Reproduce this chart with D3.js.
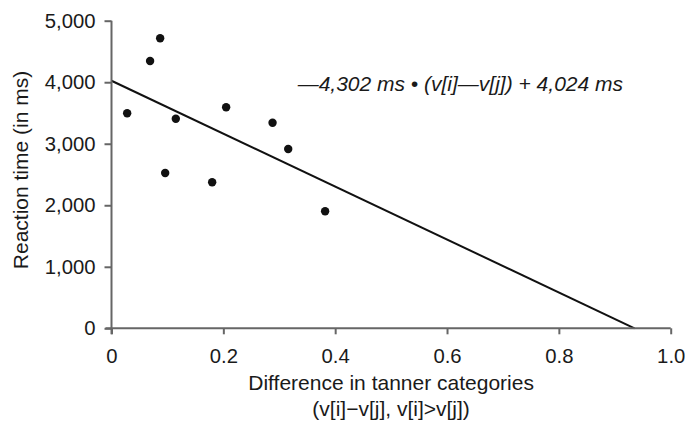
<!DOCTYPE html>
<html>
<head>
<meta charset="utf-8">
<script src="https://cdn.jsdelivr.net/npm/d3@7"></script>
<style>
  html, body { margin: 0; padding: 0; background: #fff; }
  svg { display: block; }
  text { font-family: "Liberation Sans", Arial, Helvetica, sans-serif; fill: #1a1a1a; }
</style>
</head>
<body>
<svg id="chart" width="685" height="423"></svg>
<script>
// ---- data ----
const tannerDiff = [0.028, 0.069, 0.087, 0.115, 0.096, 0.205, 0.180, 0.288, 0.316, 0.382];
const reactionMs = [3495, 4345, 4714, 3407, 2524, 3592, 2373, 3342, 2914, 1902];
const xTickValues = [0, 0.2, 0.4, 0.6, 0.8, 1.0];
const xTickLabels = ["0", "0.2", "0.4", "0.6", "0.8", "1.0"];
const yTickValues = [0, 1000, 2000, 3000, 4000, 5000];
const slope = -4302;
const intercept = 4024;
const equationText = "\u20144,302 ms \u2022 (v[i]\u2014v[j]) + 4,024 ms";
const xTitle1 = "Difference in tanner categories";
const xTitle2 = "(v[i]\u2212v[j], v[i]>v[j])";
const yTitle = "Reaction time (in ms)";

// ---- layout ----
const svg = d3.select("#chart");
const x = d3.scaleLinear().domain([0, 1]).range([111.5, 670.7]);
const y = d3.scaleLinear().domain([0, 5000]).range([328.3, 20.7]);
const axisColor = "#666";

// regression line (from x=0 to the x-intercept)
const xZero = -intercept / slope;
const lineData = [[0, intercept], [xZero, 0]];
svg.append("path")
  .datum(lineData)
  .attr("d", d3.line().x(d => x(d[0])).y(d => y(d[1])))
  .attr("fill", "none")
  .attr("stroke", "#111")
  .attr("stroke-width", 2);

// axes
const xAxis = d3.axisBottom(x)
  .tickValues(xTickValues)
  .tickFormat((d, i) => xTickLabels[i])
  .tickSize(6)
  .tickSizeOuter(0)
  .tickPadding(14);
const gx = svg.append("g").attr("transform", `translate(0,${y(0)})`).call(xAxis);

const yAxis = d3.axisLeft(y)
  .tickValues(yTickValues)
  .tickFormat(d3.format(","))
  .tickSize(7)
  .tickSizeOuter(0)
  .tickPadding(9);
const gy = svg.append("g").attr("transform", `translate(${x(0)},0)`).call(yAxis);

[gx, gy].forEach(g => {
  g.select(".domain").attr("stroke", axisColor).attr("stroke-width", 2);
  g.selectAll(".tick line").attr("stroke", axisColor).attr("stroke-width", 2);
  g.selectAll(".tick text")
    .style("font-family", '"Liberation Sans", Arial, sans-serif')
    .style("font-size", "20.3px")
    .attr("fill", "#1a1a1a");
});
// extend the domains slightly so they cross at the origin
gx.select(".domain").attr("d", `M${x(0) - 6},0H${x(1)}`);
gy.select(".domain").attr("d", `M0,${y(0) + 6}V${y(5000)}`);

// points
svg.append("g").selectAll("circle")
  .data(tannerDiff.map((d, i) => [d, reactionMs[i]]))
  .join("circle")
  .attr("cx", d => x(d[0]))
  .attr("cy", d => y(d[1]))
  .attr("r", 4.2)
  .attr("fill", "#111");

// equation
svg.append("text")
  .attr("x", 623)
  .attr("y", 91)
  .attr("text-anchor", "end")
  .style("font-style", "italic")
  .style("font-size", "21px")
  .text(equationText);

// axis titles
const xc = (x(0) + x(1)) / 2;
svg.append("text")
  .attr("x", xc).attr("y", 390)
  .attr("text-anchor", "middle")
  .style("font-size", "21px")
  .text(xTitle1);
svg.append("text")
  .attr("x", xc).attr("y", 416)
  .attr("text-anchor", "middle")
  .style("font-size", "21px")
  .text(xTitle2);
svg.append("text")
  .attr("transform", "translate(28,170) rotate(-90)")
  .attr("text-anchor", "middle")
  .style("font-size", "21px")
  .text(yTitle);
</script>
</body>
</html>
